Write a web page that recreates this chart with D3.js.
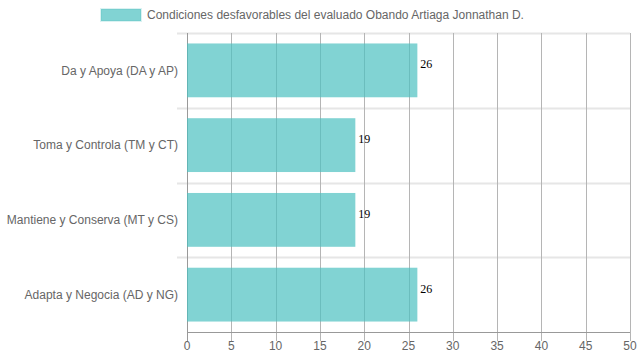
<!DOCTYPE html>
<html><head><meta charset="utf-8">
<script src="https://cdn.jsdelivr.net/npm/d3@7"></script>
<style>body{margin:0;background:#fff}svg{display:block}</style>
</head><body>
<script>
const categories = ["Da y Apoya (DA y AP)", "Toma y Controla (TM y CT)", "Mantiene y Conserva (MT y CS)", "Adapta y Negocia (AD y NG)"];
const values = [26, 19, 19, 26];
const xTicks = [0,5,10,15,20,25,30,35,40,45,50];
const seriesLabel = "Condiciones desfavorables del evaluado Obando Artiaga Jonnathan D.";

const W = 639, H = 360;
const m = {left: 187, right: 9, top: 33, bottom: 28};
const svg = d3.select("body").append("svg").attr("width", W).attr("height", H);
const font = "'Liberation Sans', Arial, sans-serif";

const x = d3.scaleLinear().domain([0, 50]).range([m.left, W - m.right]);
const y = d3.scaleBand().domain(categories).range([m.top, H - m.bottom]);
const inner = y.bandwidth() * 0.72;

// horizontal grid (category separators)
const hg = svg.append("g");
const bounds = categories.map(c => y(c));
hg.selectAll("line").data(bounds).enter().append("line")
  .attr("x1", m.left - 10).attr("x2", W - m.right)
  .attr("y1", d => Math.round(d) + 0.5).attr("y2", d => Math.round(d) + 0.5)
  .attr("stroke", "#e6e6e6").attr("stroke-width", 2);

// vertical grid
const vg = svg.append("g");
vg.selectAll("line").data(xTicks).enter().append("line")
  .attr("x1", d => Math.round(x(d)) + 0.5).attr("x2", d => Math.round(x(d)) + 0.5)
  .attr("y1", m.top).attr("y2", H - m.bottom + 9)
  .attr("stroke", d => d === 0 ? "#999" : "#b5b5b5").attr("stroke-width", 1);

// bottom axis line
svg.append("line").attr("x1", m.left).attr("x2", W - m.right)
  .attr("y1", H - m.bottom + 0.5).attr("y2", H - m.bottom + 0.5)
  .attr("stroke", "#999");

// bars
svg.append("g").selectAll("rect").data(values).enter().append("rect")
  .attr("x", x(0))
  .attr("y", (d, i) => y(categories[i]) + (y.bandwidth() - inner) / 2)
  .attr("width", d => x(d) - x(0))
  .attr("height", inner)
  .attr("fill", "rgb(75,192,192)").attr("fill-opacity", 0.7);

// value labels
svg.append("g").selectAll("text").data(values).enter().append("text")
  .attr("x", d => x(d) + 3)
  .attr("y", (d, i) => y(categories[i]) + y.bandwidth() / 2 - 2)
  .attr("font-family", "'Liberation Serif', 'Times New Roman', serif")
  .attr("font-size", 12).attr("fill", "#000")
  .text(d => d);

// y labels
svg.append("g").selectAll("text").data(categories).enter().append("text")
  .attr("x", m.left - 9)
  .attr("y", d => y(d) + y.bandwidth() / 2)
  .attr("dy", "0.35em").attr("text-anchor", "end")
  .attr("font-family", font).attr("font-size", 12).attr("fill", "#666")
  .text(d => d);

// x labels
svg.append("g").selectAll("text").data(xTicks).enter().append("text")
  .attr("x", d => x(d))
  .attr("y", H - m.bottom + 18)
  .attr("text-anchor", "middle")
  .attr("font-family", font).attr("font-size", 12).attr("fill", "#666")
  .text(d => d);

// legend
svg.append("rect").attr("x", 101).attr("y", 9).attr("width", 40).attr("height", 12)
  .attr("fill", "rgb(75,192,192)").attr("fill-opacity", 0.7)
  .attr("stroke", "rgba(75,192,192,0.2)").attr("stroke-width", 2);
svg.append("text").attr("x", 147).attr("y", 15).attr("dy", "0.35em")
  .attr("font-family", font).attr("font-size", 12).attr("fill", "#666")
  .text(seriesLabel);
</script>
</body></html>
